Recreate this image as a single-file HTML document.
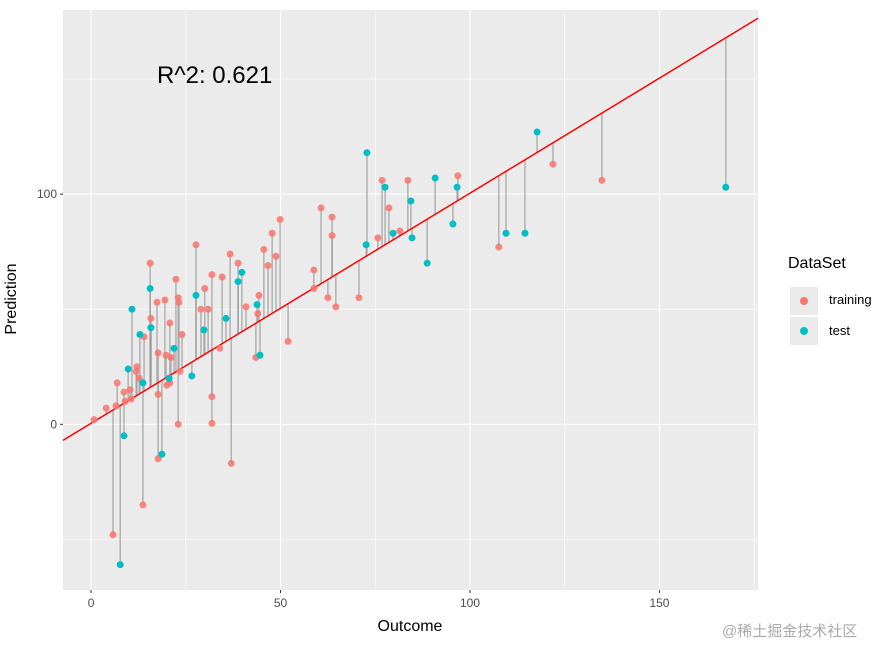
<!DOCTYPE html>
<html><head><meta charset="utf-8"><style>
body{margin:0;background:#fff;font-family:"Liberation Sans",Arial,sans-serif;}
svg{display:block}
</style></head><body>
<svg id="c" width="887" height="646" xmlns="http://www.w3.org/2000/svg"></svg>
<script>
const trainX=[0.8,4,5.8,6.9,6.6,8.7,9,10.3,10.6,11.9,12.1,12.7,13.7,14,15.6,15.8,17.4,17.7,17.7,17.7,19.5,19.8,20,20.8,20.8,21.1,22.4,23,23.2,23,23.5,24,27.7,29,30,30.9,31.9,31.9,31.9,34,34.6,36.7,37,38.8,40.9,43.5,44,44.3,45.6,46.7,47.8,48.8,49.9,52,58.8,58.8,60.7,62.5,63.6,63.6,64.6,70.7,75.7,76.8,78.6,81.5,83.6,96.8,107.6,121.9,134.8];
const trainY=[2,7,-48,18,8,14,10,15,11,23,25,20,-35,38,70,46,53,31,13,-15,54,30,17,44,18,29,63,55,53,0,23,39,78,50,59,50,65,12,0.4,33,64,74,-17,70,51,29,48,56,76,69,83,73,89,36,67,59,94,55,90,82,51,55,81,106,94,84,106,108,77,113,106];
const testX=[7.7,8.7,9.8,10.8,12.9,13.7,15.6,15.8,18.7,20.6,21.9,26.6,27.7,29.8,35.6,38.8,39.8,43.8,44.6,72.6,72.8,77.6,79.7,84.4,84.7,88.7,90.8,95.5,96.6,109.5,114.5,117.7,167.5];
const testY=[-61,-5,24,50,39,18,59,42,-13,20,33,21,56,41,46,62,66,52,30,78,118,103,83,97,81,70,107,87,103,83,83,127,103];
const xTicks=[0,50,100,150];
const yTicks=[0,100];
const fitIntercept=0.4, fitSlope=1.0;
const L=63,R=758,T=10,B=590, xmin=-7.4,xmax=176,ymin=-72,ymax=180;
const sx=v=>L+(v-xmin)/(xmax-xmin)*(R-L);
const sy=v=>B-(v-ymin)/(ymax-ymin)*(B-T);
const svg=document.getElementById('c');const NS='http://www.w3.org/2000/svg';
function el(t,a,p){const e=document.createElementNS(NS,t);for(const k in a)e.setAttribute(k,a[k]);(p||svg).appendChild(e);return e;}
const panel=el('rect',{x:L,y:T,width:R-L,height:B-T,fill:'#EBEBEB'});


for(const v of [-50,50,150]){const g=el('line',{x1:L,x2:R,y1:sy(v),y2:sy(v),stroke:'#fff','stroke-width':0.55});
}
for(const v of [25,75,125,175]){const g=el('line',{x1:sx(v),x2:sx(v),y1:T,y2:B,stroke:'#fff','stroke-width':0.55});
}
for(const v of yTicks){const g=el('line',{x1:L,x2:R,y1:sy(v),y2:sy(v),stroke:'#fff','stroke-width':1.1});

const t=el('text',{x:L-6,y:sy(v)+4,'text-anchor':'end','font-size':12,fill:'#4D4D4D'});t.textContent=v;

el('line',{x1:L-3,x2:L,y1:sy(v),y2:sy(v),stroke:'#333'});}
for(const v of xTicks){const g=el('line',{x1:sx(v),x2:sx(v),y1:T,y2:B,stroke:'#fff','stroke-width':1.1});

const t=el('text',{x:sx(v),y:B+17,'text-anchor':'middle','font-size':12,fill:'#4D4D4D'});t.textContent=v;

el('line',{x1:sx(v),x2:sx(v),y1:B,y2:B+3,stroke:'#333'});}
const fy=x=>fitIntercept+fitSlope*x;
function seg(xs,ys){xs.forEach((x,i)=>{const s=el('line',{x1:sx(x),x2:sx(x),y1:sy(ys[i]),y2:sy(fy(x)),stroke:'#999','stroke-opacity':0.7,'stroke-width':1.5});
});}
seg(trainX,trainY);seg(testX,testY);
const line=el('line',{x1:L,y1:sy(fy(xmin)),x2:R,y2:sy(fy(xmax)),stroke:'#FF0000','stroke-width':1.5});

trainX.forEach((x,i)=>{const c=el('circle',{cx:sx(x),cy:sy(trainY[i]),r:3.5,fill:'#F8766D','fill-opacity':0.85});
});
testX.forEach((x,i)=>{const c=el('circle',{cx:sx(x),cy:sy(testY[i]),r:3.5,fill:'#00BFC4'});
});
</script>
<div style="position:absolute;left:0;top:0;width:887px;height:646px;pointer-events:none">
<div style="position:absolute;left:157px;top:62px;font-size:24px;color:#000">R^2: 0.621</div>
<div style="position:absolute;left:-28px;top:290px;width:80px;text-align:center;font-size:16px;transform:rotate(-90deg)">Prediction</div>
<div style="position:absolute;left:350px;top:618px;width:120px;text-align:center;font-size:16px">Outcome</div>
<div style="position:absolute;left:788px;top:255px;font-size:16px">DataSet</div>
<div style="position:absolute;left:790px;top:287px;width:28px;height:28px;background:#EBEBEB"><div style="position:absolute;left:10px;top:10px;width:8px;height:8px;border-radius:50%;background:#F8766D"></div></div>
<div style="position:absolute;left:790px;top:317px;width:28px;height:28px;background:#EBEBEB"><div style="position:absolute;left:10px;top:10px;width:8px;height:8px;border-radius:50%;background:#00BFC4"></div></div>
<div style="position:absolute;left:829px;top:292px;font-size:13px">training</div>
<div style="position:absolute;left:829px;top:323px;font-size:13px">test</div>
<div style="position:absolute;left:722px;top:620px;font-size:15px;color:#aaa;font-family:'Liberation Sans','Noto Sans CJK SC',sans-serif">@稀土掘金技术社区</div>
</div>
</body></html>
